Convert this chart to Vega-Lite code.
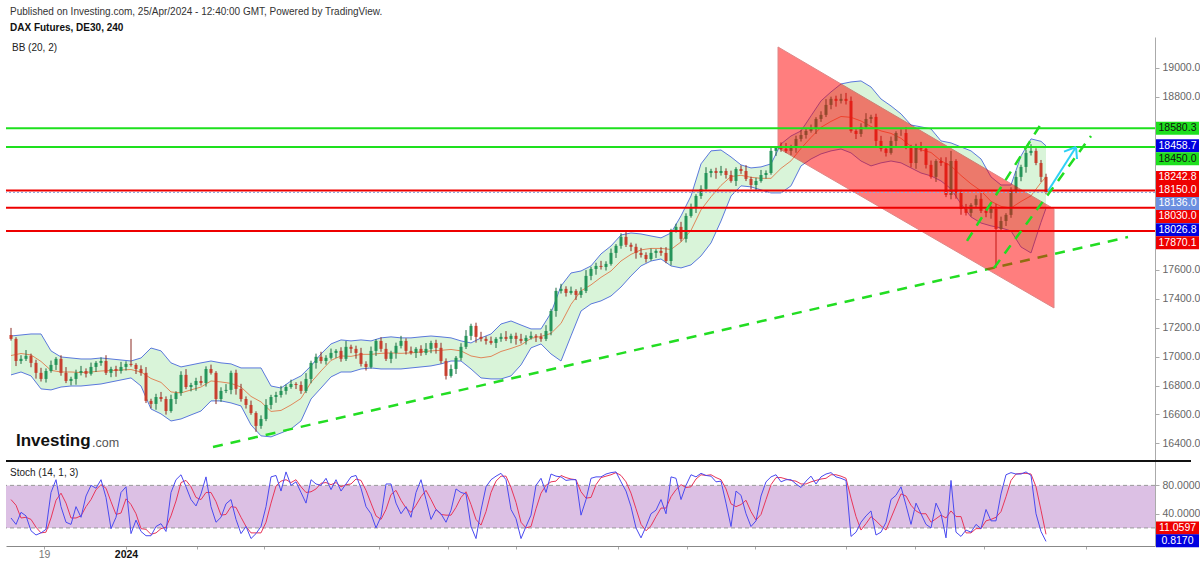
{
"$schema":"https://vega.github.io/schema/vega-lite/v6.json",
"background":"#ffffff",
"padding":{"left":5,"top":7,"right":0,"bottom":0},
"config":{"font":"Liberation Sans","view":{"stroke":null},"concat":{"spacing":0}},
"title":{"text":"Published on Investing.com, 25/Apr/2024 - 12:40:00 GMT, Powered by TradingView.","subtitle":"DAX Futures, DE30, 240","anchor":"start","fontSize":10,"fontWeight":"normal","color":"#333","subtitleFontSize":10,"subtitleFontWeight":"bold","subtitleColor":"#111","subtitlePadding":6,"offset":4,"dx":5},
"datasets":{
"bars":[
{"i":1,"o":17150,"h":17199,"l":17111,"c":17123,"k":34,"d":60},
{"i":2,"o":17123,"h":17135,"l":16935,"c":16970,"k":25,"d":52},
{"i":3,"o":16970,"h":17010,"l":16950,"c":16985,"k":42,"d":34},
{"i":4,"o":16985,"h":17046,"l":16970,"c":17006,"k":37,"d":35},
{"i":5,"o":17006,"h":17021,"l":16927,"c":16957,"k":16,"d":32},
{"i":6,"o":16957,"h":16979,"l":16848,"c":16888,"k":10,"d":21},
{"i":7,"o":16888,"h":16923,"l":16828,"c":16846,"k":13,"d":13},
{"i":8,"o":16846,"h":16919,"l":16821,"c":16901,"k":18,"d":14},
{"i":9,"o":16901,"h":16973,"l":16889,"c":16943,"k":70,"d":34},
{"i":10,"o":16943,"h":16997,"l":16908,"c":16985,"k":88,"d":59},
{"i":11,"o":16985,"h":17010,"l":16868,"c":16888,"k":50,"d":69},
{"i":12,"o":16888,"h":16928,"l":16817,"c":16832,"k":28,"d":55},
{"i":13,"o":16832,"h":16861,"l":16802,"c":16846,"k":25,"d":34},
{"i":14,"o":16846,"h":16910,"l":16806,"c":16888,"k":50,"d":34},
{"i":15,"o":16888,"h":16936,"l":16870,"c":16901,"k":35,"d":37},
{"i":16,"o":16901,"h":16919,"l":16856,"c":16881,"k":65,"d":50},
{"i":17,"o":16881,"h":16959,"l":16869,"c":16929,"k":80,"d":60},
{"i":18,"o":16929,"h":16969,"l":16894,"c":16957,"k":76,"d":74},
{"i":19,"o":16957,"h":16995,"l":16937,"c":16970,"k":88,"d":81},
{"i":20,"o":16970,"h":17010,"l":16873,"c":16888,"k":63,"d":76},
{"i":21,"o":16888,"h":16930,"l":16858,"c":16915,"k":19,"d":57},
{"i":22,"o":16915,"h":16937,"l":16861,"c":16901,"k":35,"d":39},
{"i":23,"o":16901,"h":16964,"l":16883,"c":16929,"k":70,"d":41},
{"i":24,"o":16929,"h":16968,"l":16904,"c":16950,"k":78,"d":61},
{"i":25,"o":16950,"h":17123,"l":16931,"c":16943,"k":12,"d":53},
{"i":26,"o":16943,"h":16955,"l":16880,"c":16915,"k":31,"d":40},
{"i":27,"o":16915,"h":16940,"l":16868,"c":16888,"k":15,"d":19},
{"i":28,"o":16888,"h":16928,"l":16679,"c":16694,"k":9,"d":18},
{"i":29,"o":16694,"h":16709,"l":16643,"c":16673,"k":9,"d":11},
{"i":30,"o":16673,"h":16743,"l":16633,"c":16721,"k":22,"d":13},
{"i":31,"o":16721,"h":16756,"l":16689,"c":16707,"k":26,"d":19},
{"i":32,"o":16707,"h":16725,"l":16599,"c":16624,"k":15,"d":21},
{"i":33,"o":16624,"h":16737,"l":16612,"c":16707,"k":70,"d":37},
{"i":34,"o":16707,"h":16761,"l":16672,"c":16749,"k":88,"d":58},
{"i":35,"o":16749,"h":16899,"l":16729,"c":16874,"k":95,"d":84},
{"i":36,"o":16874,"h":16914,"l":16775,"c":16790,"k":78,"d":87},
{"i":37,"o":16790,"h":16819,"l":16760,"c":16804,"k":60,"d":78},
{"i":38,"o":16804,"h":16854,"l":16764,"c":16832,"k":51,"d":63},
{"i":39,"o":16832,"h":16867,"l":16800,"c":16818,"k":68,"d":60},
{"i":40,"o":16818,"h":16933,"l":16793,"c":16915,"k":92,"d":70},
{"i":41,"o":16915,"h":16945,"l":16876,"c":16888,"k":50,"d":70},
{"i":42,"o":16888,"h":16900,"l":16672,"c":16707,"k":28,"d":57},
{"i":43,"o":16707,"h":16788,"l":16687,"c":16763,"k":35,"d":38},
{"i":44,"o":16763,"h":16810,"l":16748,"c":16770,"k":54,"d":39},
{"i":45,"o":16770,"h":16903,"l":16740,"c":16888,"k":60,"d":50},
{"i":46,"o":16888,"h":16910,"l":16737,"c":16777,"k":32,"d":49},
{"i":47,"o":16777,"h":16812,"l":16689,"c":16707,"k":12,"d":35},
{"i":48,"o":16707,"h":16725,"l":16641,"c":16666,"k":22,"d":22},
{"i":49,"o":16666,"h":16696,"l":16598,"c":16610,"k":5,"d":13},
{"i":50,"o":16610,"h":16622,"l":16480,"c":16521,"k":12,"d":13},
{"i":51,"o":16521,"h":16594,"l":16501,"c":16569,"k":22,"d":13},
{"i":52,"o":16569,"h":16706,"l":16554,"c":16666,"k":50,"d":28},
{"i":53,"o":16666,"h":16736,"l":16636,"c":16721,"k":92,"d":55},
{"i":54,"o":16721,"h":16757,"l":16681,"c":16735,"k":94,"d":79},
{"i":55,"o":16735,"h":16798,"l":16717,"c":16763,"k":72,"d":86},
{"i":56,"o":16763,"h":16808,"l":16738,"c":16790,"k":99,"d":88},
{"i":57,"o":16790,"h":16841,"l":16778,"c":16811,"k":80,"d":84},
{"i":58,"o":16811,"h":16823,"l":16776,"c":16804,"k":85,"d":88},
{"i":59,"o":16804,"h":16829,"l":16743,"c":16763,"k":70,"d":78},
{"i":60,"o":16763,"h":16886,"l":16748,"c":16846,"k":55,"d":70},
{"i":61,"o":16846,"h":16972,"l":16816,"c":16957,"k":88,"d":71},
{"i":62,"o":16957,"h":17021,"l":16917,"c":16999,"k":82,"d":75},
{"i":63,"o":16999,"h":17034,"l":16952,"c":16970,"k":80,"d":83},
{"i":64,"o":16970,"h":17010,"l":16945,"c":16992,"k":90,"d":84},
{"i":65,"o":16992,"h":17056,"l":16980,"c":17026,"k":74,"d":81},
{"i":66,"o":17026,"h":17052,"l":16991,"c":17040,"k":88,"d":84},
{"i":67,"o":17040,"h":17065,"l":16965,"c":16985,"k":72,"d":78},
{"i":68,"o":16985,"h":17108,"l":16970,"c":17068,"k":82,"d":81},
{"i":69,"o":17068,"h":17083,"l":17024,"c":17054,"k":92,"d":82},
{"i":70,"o":17054,"h":17076,"l":16986,"c":17026,"k":94,"d":89},
{"i":71,"o":17026,"h":17061,"l":16932,"c":16950,"k":76,"d":87},
{"i":72,"o":16950,"h":16968,"l":16904,"c":16929,"k":50,"d":73},
{"i":73,"o":16929,"h":17070,"l":16917,"c":17040,"k":40,"d":55},
{"i":74,"o":17040,"h":17121,"l":17005,"c":17109,"k":20,"d":37},
{"i":75,"o":17109,"h":17134,"l":17034,"c":17054,"k":36,"d":32},
{"i":76,"o":17054,"h":17094,"l":16970,"c":16985,"k":82,"d":46},
{"i":77,"o":16985,"h":17041,"l":16955,"c":17026,"k":82,"d":67},
{"i":78,"o":17026,"h":17097,"l":16986,"c":17075,"k":55,"d":73},
{"i":79,"o":17075,"h":17144,"l":17057,"c":17109,"k":40,"d":59},
{"i":80,"o":17109,"h":17127,"l":17015,"c":17040,"k":50,"d":48},
{"i":81,"o":17040,"h":17070,"l":17014,"c":17026,"k":35,"d":42},
{"i":82,"o":17026,"h":17066,"l":16991,"c":17054,"k":70,"d":52},
{"i":83,"o":17054,"h":17079,"l":17006,"c":17026,"k":88,"d":64},
{"i":84,"o":17026,"h":17094,"l":17011,"c":17054,"k":60,"d":73},
{"i":85,"o":17054,"h":17110,"l":17024,"c":17095,"k":32,"d":60},
{"i":86,"o":17095,"h":17117,"l":17021,"c":17061,"k":46,"d":46},
{"i":87,"o":17061,"h":17096,"l":16952,"c":16970,"k":40,"d":39},
{"i":88,"o":16970,"h":16988,"l":16842,"c":16867,"k":28,"d":38},
{"i":89,"o":16867,"h":16945,"l":16855,"c":16915,"k":45,"d":38},
{"i":90,"o":16915,"h":17004,"l":16880,"c":16992,"k":75,"d":49},
{"i":91,"o":16992,"h":17093,"l":16972,"c":17068,"k":70,"d":63},
{"i":92,"o":17068,"h":17184,"l":17053,"c":17144,"k":68,"d":71},
{"i":93,"o":17144,"h":17228,"l":17114,"c":17213,"k":22,"d":53},
{"i":94,"o":17213,"h":17235,"l":17097,"c":17137,"k":5,"d":32},
{"i":95,"o":17137,"h":17172,"l":17105,"c":17123,"k":45,"d":24},
{"i":96,"o":17123,"h":17141,"l":17084,"c":17109,"k":78,"d":43},
{"i":97,"o":17109,"h":17139,"l":17083,"c":17095,"k":88,"d":70},
{"i":98,"o":17095,"h":17135,"l":17060,"c":17123,"k":93,"d":86},
{"i":99,"o":17123,"h":17162,"l":17103,"c":17137,"k":97,"d":93},
{"i":100,"o":17137,"h":17177,"l":17108,"c":17123,"k":88,"d":93},
{"i":101,"o":17123,"h":17159,"l":17093,"c":17144,"k":46,"d":77},
{"i":102,"o":17144,"h":17166,"l":17083,"c":17123,"k":33,"d":56},
{"i":103,"o":17123,"h":17158,"l":17091,"c":17109,"k":5,"d":28},
{"i":104,"o":17109,"h":17148,"l":17084,"c":17130,"k":22,"d":20},
{"i":105,"o":17130,"h":17174,"l":17118,"c":17144,"k":38,"d":22},
{"i":106,"o":17144,"h":17156,"l":17102,"c":17137,"k":80,"d":47},
{"i":107,"o":17137,"h":17162,"l":17103,"c":17123,"k":90,"d":69},
{"i":108,"o":17123,"h":17218,"l":17108,"c":17178,"k":70,"d":80},
{"i":109,"o":17178,"h":17331,"l":17148,"c":17316,"k":96,"d":85},
{"i":110,"o":17316,"h":17477,"l":17276,"c":17455,"k":93,"d":86},
{"i":111,"o":17455,"h":17504,"l":17437,"c":17469,"k":92,"d":94},
{"i":112,"o":17469,"h":17487,"l":17416,"c":17441,"k":87,"d":91},
{"i":113,"o":17441,"h":17485,"l":17429,"c":17455,"k":88,"d":89},
{"i":114,"o":17455,"h":17467,"l":17392,"c":17427,"k":88,"d":88},
{"i":115,"o":17427,"h":17480,"l":17407,"c":17455,"k":38,"d":71},
{"i":116,"o":17455,"h":17599,"l":17440,"c":17559,"k":60,"d":62},
{"i":117,"o":17559,"h":17622,"l":17529,"c":17607,"k":90,"d":63},
{"i":118,"o":17607,"h":17650,"l":17567,"c":17628,"k":92,"d":81},
{"i":119,"o":17628,"h":17663,"l":17603,"c":17621,"k":92,"d":91},
{"i":120,"o":17621,"h":17660,"l":17596,"c":17642,"k":96,"d":93},
{"i":121,"o":17642,"h":17748,"l":17630,"c":17718,"k":98,"d":95},
{"i":122,"o":17718,"h":17779,"l":17683,"c":17767,"k":99,"d":98},
{"i":123,"o":17767,"h":17854,"l":17747,"c":17829,"k":85,"d":94},
{"i":124,"o":17829,"h":17869,"l":17759,"c":17774,"k":72,"d":85},
{"i":125,"o":17774,"h":17789,"l":17730,"c":17760,"k":50,"d":69},
{"i":126,"o":17760,"h":17782,"l":17678,"c":17718,"k":20,"d":47},
{"i":127,"o":17718,"h":17753,"l":17686,"c":17704,"k":6,"d":25},
{"i":128,"o":17704,"h":17722,"l":17651,"c":17676,"k":22,"d":16},
{"i":129,"o":17676,"h":17748,"l":17664,"c":17718,"k":40,"d":23},
{"i":130,"o":17718,"h":17744,"l":17683,"c":17732,"k":45,"d":36},
{"i":131,"o":17732,"h":17757,"l":17698,"c":17718,"k":60,"d":48},
{"i":132,"o":17718,"h":17758,"l":17647,"c":17662,"k":40,"d":48},
{"i":133,"o":17662,"h":17885,"l":17632,"c":17870,"k":92,"d":64},
{"i":134,"o":17870,"h":17920,"l":17858,"c":17898,"k":90,"d":74},
{"i":135,"o":17898,"h":17933,"l":17797,"c":17815,"k":60,"d":81},
{"i":136,"o":17815,"h":17992,"l":17790,"c":17974,"k":80,"d":77},
{"i":137,"o":17974,"h":18059,"l":17962,"c":18029,"k":95,"d":78},
{"i":138,"o":18029,"h":18124,"l":17994,"c":18112,"k":92,"d":89},
{"i":139,"o":18112,"h":18186,"l":18092,"c":18161,"k":97,"d":95},
{"i":140,"o":18161,"h":18311,"l":18146,"c":18271,"k":94,"d":94},
{"i":141,"o":18271,"h":18300,"l":18241,"c":18285,"k":93,"d":95},
{"i":142,"o":18285,"h":18307,"l":18231,"c":18271,"k":85,"d":91},
{"i":143,"o":18271,"h":18320,"l":18253,"c":18285,"k":86,"d":88},
{"i":144,"o":18285,"h":18303,"l":18232,"c":18257,"k":55,"d":75},
{"i":145,"o":18257,"h":18287,"l":18204,"c":18216,"k":22,"d":54},
{"i":146,"o":18216,"h":18311,"l":18181,"c":18299,"k":72,"d":50},
{"i":147,"o":18299,"h":18324,"l":18265,"c":18285,"k":66,"d":53},
{"i":148,"o":18285,"h":18325,"l":18215,"c":18230,"k":40,"d":59},
{"i":149,"o":18230,"h":18245,"l":18158,"c":18188,"k":22,"d":43},
{"i":150,"o":18188,"h":18238,"l":18148,"c":18216,"k":30,"d":31},
{"i":151,"o":18216,"h":18292,"l":18204,"c":18257,"k":65,"d":39},
{"i":152,"o":18257,"h":18289,"l":18232,"c":18271,"k":85,"d":60},
{"i":153,"o":18271,"h":18454,"l":18259,"c":18424,"k":92,"d":81},
{"i":154,"o":18424,"h":18456,"l":18389,"c":18444,"k":95,"d":91},
{"i":155,"o":18444,"h":18483,"l":18418,"c":18438,"k":85,"d":91},
{"i":156,"o":18438,"h":18478,"l":18409,"c":18424,"k":88,"d":89},
{"i":157,"o":18424,"h":18466,"l":18394,"c":18451,"k":88,"d":87},
{"i":158,"o":18451,"h":18529,"l":18411,"c":18507,"k":82,"d":86},
{"i":159,"o":18507,"h":18569,"l":18489,"c":18534,"k":77,"d":82},
{"i":160,"o":18534,"h":18580,"l":18509,"c":18562,"k":86,"d":82},
{"i":161,"o":18562,"h":18606,"l":18550,"c":18576,"k":93,"d":85},
{"i":162,"o":18576,"h":18657,"l":18541,"c":18645,"k":82,"d":87},
{"i":163,"o":18645,"h":18698,"l":18625,"c":18673,"k":92,"d":89},
{"i":164,"o":18673,"h":18782,"l":18658,"c":18742,"k":96,"d":90},
{"i":165,"o":18742,"h":18799,"l":18712,"c":18784,"k":98,"d":95},
{"i":166,"o":18784,"h":18806,"l":18730,"c":18770,"k":92,"d":95},
{"i":167,"o":18770,"h":18819,"l":18752,"c":18784,"k":90,"d":93},
{"i":168,"o":18784,"h":18825,"l":18745,"c":18770,"k":87,"d":90},
{"i":169,"o":18770,"h":18800,"l":18550,"c":18562,"k":8,"d":62},
{"i":170,"o":18562,"h":18574,"l":18506,"c":18541,"k":14,"d":36},
{"i":171,"o":18541,"h":18615,"l":18521,"c":18590,"k":28,"d":17},
{"i":172,"o":18590,"h":18685,"l":18575,"c":18645,"k":37,"d":26},
{"i":173,"o":18645,"h":18674,"l":18615,"c":18659,"k":44,"d":36},
{"i":174,"o":18659,"h":18681,"l":18453,"c":18493,"k":10,"d":30},
{"i":175,"o":18493,"h":18528,"l":18420,"c":18438,"k":14,"d":23},
{"i":176,"o":18438,"h":18456,"l":18385,"c":18410,"k":28,"d":17},
{"i":177,"o":18410,"h":18523,"l":18398,"c":18493,"k":60,"d":34},
{"i":178,"o":18493,"h":18560,"l":18458,"c":18548,"k":66,"d":51},
{"i":179,"o":18548,"h":18573,"l":18528,"c":18548,"k":78,"d":68},
{"i":180,"o":18548,"h":18588,"l":18436,"c":18451,"k":52,"d":65},
{"i":181,"o":18451,"h":18466,"l":18310,"c":18340,"k":25,"d":52},
{"i":182,"o":18340,"h":18473,"l":18300,"c":18451,"k":55,"d":44},
{"i":183,"o":18451,"h":18486,"l":18420,"c":18438,"k":40,"d":40},
{"i":184,"o":18438,"h":18456,"l":18302,"c":18327,"k":25,"d":40},
{"i":185,"o":18327,"h":18357,"l":18232,"c":18244,"k":20,"d":28},
{"i":186,"o":18244,"h":18366,"l":18209,"c":18354,"k":55,"d":33},
{"i":187,"o":18354,"h":18379,"l":18320,"c":18340,"k":40,"d":38},
{"i":188,"o":18340,"h":18380,"l":18104,"c":18119,"k":6,"d":34},
{"i":189,"o":18119,"h":18424,"l":18089,"c":18354,"k":87,"d":44},
{"i":190,"o":18354,"h":18366,"l":18093,"c":18133,"k":14,"d":36},
{"i":191,"o":18133,"h":18155,"l":17982,"c":18022,"k":8,"d":36},
{"i":192,"o":18022,"h":18057,"l":17977,"c":17995,"k":17,"d":13},
{"i":193,"o":17995,"h":18062,"l":17970,"c":18050,"k":14,"d":13},
{"i":194,"o":18050,"h":18117,"l":18030,"c":18092,"k":25,"d":19},
{"i":195,"o":18092,"h":18132,"l":17994,"c":18009,"k":19,"d":19},
{"i":196,"o":18009,"h":18024,"l":17965,"c":17995,"k":46,"d":30},
{"i":197,"o":17995,"h":18044,"l":17955,"c":18022,"k":30,"d":32},
{"i":198,"o":18022,"h":18057,"l":17614,"c":17884,"k":30,"d":35},
{"i":199,"o":17884,"h":17969,"l":17872,"c":17939,"k":68,"d":43},
{"i":200,"o":17939,"h":17993,"l":17904,"c":17981,"k":95,"d":64},
{"i":201,"o":17981,"h":18172,"l":17961,"c":18147,"k":98,"d":87},
{"i":202,"o":18147,"h":18284,"l":18132,"c":18244,"k":96,"d":96},
{"i":203,"o":18244,"h":18328,"l":18214,"c":18313,"k":96,"d":97},
{"i":204,"o":18313,"h":18432,"l":18273,"c":18410,"k":99,"d":97},
{"i":205,"o":18410,"h":18470,"l":18392,"c":18424,"k":94,"d":96},
{"i":206,"o":18424,"h":18442,"l":18325,"c":18340,"k":40,"d":78},
{"i":207,"o":18340,"h":18361,"l":18209,"c":18244,"k":15,"d":45},
{"i":208,"o":18244,"h":18266,"l":18124,"c":18136,"k":1,"d":11}
],
"bb":[
{"i":1,"up":17143,"mid":17008,"lo":16874},
{"i":3,"up":17150,"mid":17022,"lo":16894},
{"i":5,"up":17157,"mid":17012,"lo":16867},
{"i":7,"up":17157,"mid":16967,"lo":16777},
{"i":9,"up":17040,"mid":16905,"lo":16770},
{"i":11,"up":16998,"mid":16894,"lo":16790},
{"i":13,"up":16991,"mid":16894,"lo":16797},
{"i":15,"up":16984,"mid":16890,"lo":16797},
{"i":17,"up":16984,"mid":16894,"lo":16804},
{"i":19,"up":16991,"mid":16901,"lo":16811},
{"i":21,"up":16984,"mid":16904,"lo":16825},
{"i":23,"up":16977,"mid":16908,"lo":16839},
{"i":25,"up":16970,"mid":16911,"lo":16853},
{"i":27,"up":16991,"mid":16894,"lo":16797},
{"i":29,"up":17060,"mid":16849,"lo":16638},
{"i":31,"up":17040,"mid":16822,"lo":16604},
{"i":33,"up":16957,"mid":16756,"lo":16555},
{"i":35,"up":16929,"mid":16749,"lo":16569},
{"i":37,"up":16943,"mid":16770,"lo":16597},
{"i":39,"up":16957,"mid":16790,"lo":16624},
{"i":41,"up":16970,"mid":16832,"lo":16694},
{"i":43,"up":16957,"mid":16825,"lo":16694},
{"i":45,"up":16950,"mid":16815,"lo":16680},
{"i":47,"up":16922,"mid":16790,"lo":16659},
{"i":49,"up":16922,"mid":16725,"lo":16528},
{"i":51,"up":16922,"mid":16687,"lo":16452},
{"i":53,"up":16797,"mid":16621,"lo":16445},
{"i":55,"up":16783,"mid":16628,"lo":16472},
{"i":57,"up":16832,"mid":16666,"lo":16500},
{"i":59,"up":16867,"mid":16711,"lo":16555},
{"i":61,"up":16936,"mid":16822,"lo":16707},
{"i":63,"up":17019,"mid":16901,"lo":16783},
{"i":65,"up":17088,"mid":16974,"lo":16860},
{"i":67,"up":17116,"mid":17005,"lo":16894},
{"i":69,"up":17109,"mid":17002,"lo":16894},
{"i":71,"up":17116,"mid":17016,"lo":16915},
{"i":73,"up":17109,"mid":17016,"lo":16922},
{"i":75,"up":17130,"mid":17023,"lo":16915},
{"i":77,"up":17137,"mid":17026,"lo":16915},
{"i":79,"up":17130,"mid":17023,"lo":16915},
{"i":81,"up":17130,"mid":17026,"lo":16922},
{"i":83,"up":17137,"mid":17033,"lo":16929},
{"i":85,"up":17143,"mid":17040,"lo":16936},
{"i":87,"up":17137,"mid":17044,"lo":16950},
{"i":89,"up":17130,"mid":17050,"lo":16970},
{"i":91,"up":17109,"mid":17040,"lo":16970},
{"i":93,"up":17095,"mid":17005,"lo":16915},
{"i":95,"up":17130,"mid":16992,"lo":16853},
{"i":97,"up":17157,"mid":17002,"lo":16846},
{"i":99,"up":17226,"mid":17036,"lo":16846},
{"i":101,"up":17247,"mid":17057,"lo":16867},
{"i":103,"up":17219,"mid":17081,"lo":16943},
{"i":105,"up":17192,"mid":17127,"lo":17061},
{"i":107,"up":17192,"mid":17140,"lo":17088},
{"i":109,"up":17303,"mid":17161,"lo":17019},
{"i":111,"up":17489,"mid":17230,"lo":16970},
{"i":113,"up":17579,"mid":17362,"lo":17144},
{"i":115,"up":17593,"mid":17455,"lo":17316},
{"i":117,"up":17628,"mid":17497,"lo":17365},
{"i":119,"up":17711,"mid":17549,"lo":17386},
{"i":121,"up":17766,"mid":17593,"lo":17420},
{"i":123,"up":17842,"mid":17662,"lo":17482},
{"i":125,"up":17856,"mid":17708,"lo":17559},
{"i":127,"up":17849,"mid":17739,"lo":17628},
{"i":129,"up":17835,"mid":17749,"lo":17662},
{"i":131,"up":17822,"mid":17749,"lo":17676},
{"i":133,"up":17856,"mid":17742,"lo":17628},
{"i":135,"up":17974,"mid":17794,"lo":17614},
{"i":137,"up":18112,"mid":17874,"lo":17635},
{"i":139,"up":18334,"mid":18016,"lo":17697},
{"i":141,"up":18424,"mid":18106,"lo":17787},
{"i":143,"up":18430,"mid":18185,"lo":17939},
{"i":145,"up":18382,"mid":18247,"lo":18112},
{"i":147,"up":18327,"mid":18255,"lo":18182},
{"i":149,"up":18306,"mid":18241,"lo":18175},
{"i":151,"up":18313,"mid":18234,"lo":18154},
{"i":153,"up":18334,"mid":18234,"lo":18133},
{"i":155,"up":18472,"mid":18303,"lo":18133},
{"i":157,"up":18527,"mid":18355,"lo":18182},
{"i":159,"up":18562,"mid":18441,"lo":18320},
{"i":161,"up":18666,"mid":18517,"lo":18368},
{"i":163,"up":18770,"mid":18587,"lo":18403},
{"i":165,"up":18832,"mid":18628,"lo":18424},
{"i":167,"up":18887,"mid":18662,"lo":18437},
{"i":169,"up":18901,"mid":18656,"lo":18410},
{"i":171,"up":18908,"mid":18631,"lo":18354},
{"i":173,"up":18866,"mid":18593,"lo":18320},
{"i":175,"up":18783,"mid":18562,"lo":18341},
{"i":177,"up":18735,"mid":18545,"lo":18354},
{"i":179,"up":18680,"mid":18511,"lo":18341},
{"i":181,"up":18603,"mid":18455,"lo":18306},
{"i":183,"up":18590,"mid":18431,"lo":18271},
{"i":185,"up":18576,"mid":18413,"lo":18251},
{"i":187,"up":18493,"mid":18355,"lo":18216},
{"i":189,"up":18479,"mid":18320,"lo":18161},
{"i":191,"up":18451,"mid":18254,"lo":18057},
{"i":193,"up":18424,"mid":18196,"lo":17967},
{"i":195,"up":18368,"mid":18147,"lo":17925},
{"i":197,"up":18244,"mid":18075,"lo":17905},
{"i":199,"up":18188,"mid":18040,"lo":17891},
{"i":201,"up":18188,"mid":18029,"lo":17870},
{"i":203,"up":18389,"mid":18074,"lo":17759},
{"i":205,"up":18507,"mid":18113,"lo":17718},
{"i":207,"up":18490,"mid":18205,"lo":17930},
{"i":208,"up":18459,"mid":18243,"lo":18027}
],
"channel":[{"i":154.4,"top":19143,"bot":18444},{"i":209.6,"top":18022,"bot":17337}],
"trend":[{"i":41.4,"p":16375},{"i":224.4,"p":17828}],
"steep":[{"g":"A","i":192.2,"p":17801},{"g":"A","i":207,"p":18610},{"g":"B","i":197.6,"p":17614},{"g":"B","i":217,"p":18527}],
"arrow":[{"i":208.4,"p":18146,"i2":214,"p2":18451},{"i":214,"p":18451,"i2":211.6,"p2":18419},{"i":214,"p":18451,"i2":214.2,"p2":18368}],
"levels":[{"v":18580.3,"kind":"g"},{"v":18450,"kind":"g"},{"v":18150,"kind":"r"},{"v":18030,"kind":"r"},{"v":17870.1,"kind":"r"}],
"tags":[
{"v":"18580.3","pos":18580.3,"kind":"g"},
{"v":"18458.7","pos":18458.7,"kind":"b"},
{"v":"18450.0","pos":18370,"kind":"g"},
{"v":"18242.8","pos":18240,"kind":"r"},
{"v":"18150.0","pos":18150,"kind":"r"},
{"v":"18136.0","pos":18060,"kind":"lb"},
{"v":"18030.0","pos":17970,"kind":"r"},
{"v":"18026.8","pos":17878,"kind":"b"},
{"v":"17870.1","pos":17788,"kind":"r"}
],
"stags":[{"v":"11.0597","pos":20,"kind":"r"},{"v":"0.8170","pos":2,"kind":"b"}]
},
"vconcat":[
{
"width":1149,"height":423,
"title":{"text":"BB (20, 2)","anchor":"start","offset":-16,"fontSize":10,"fontWeight":"normal","color":"#222","dx":7},
"layer":[
{"data":{"name":"bb"},"mark":{"type":"area","color":"#d9f4d9"},"encoding":{
"x":{"field":"i","type":"quantitative","scale":{"domain":[0,229.8],"nice":false,"zero":false,"padding":0},"axis":null,"title":null},
"y":{"field":"up","type":"quantitative","title":null,"scale":{"domain":[16285,19212],"nice":false,"zero":false,"padding":0},"axis":{"orient":"right","values":[16400,16600,16800,17000,17200,17400,17600,18800,19000],"format":".1f","labelColor":"#666","labelFontSize":10.5,"labelOverlap":false,"domainColor":"#aaaaaa","tickColor":"#aaaaaa","tickSize":4,"grid":false,"title":null,"labelPadding":3}},
"y2":{"field":"lo"}}},
{"data":{"name":"bb"},"mark":{"type":"line","color":"#5a78dc","strokeWidth":1},"encoding":{"x":{"field":"i","type":"quantitative","title":null},"y":{"field":"up","type":"quantitative","title":null}}},
{"data":{"name":"bb"},"mark":{"type":"line","color":"#5a78dc","strokeWidth":1},"encoding":{"x":{"field":"i","type":"quantitative","title":null},"y":{"field":"lo","type":"quantitative","title":null}}},
{"data":{"name":"bb"},"mark":{"type":"line","color":"#e0875a","strokeWidth":1},"encoding":{"x":{"field":"i","type":"quantitative","title":null},"y":{"field":"mid","type":"quantitative","title":null}}},
{"data":{"name":"trend"},"mark":{"type":"line","color":"#22dd22","strokeWidth":2.5,"strokeDash":[10,8]},"encoding":{"x":{"field":"i","type":"quantitative","title":null},"y":{"field":"p","type":"quantitative","title":null}}},
{"data":{"name":"bars"},"mark":{"type":"rule","strokeWidth":1},"encoding":{"x":{"field":"i","type":"quantitative","title":null},"y":{"field":"l","type":"quantitative","title":null},"y2":{"field":"h"},"color":{"condition":{"test":"datum.c >= datum.o","value":"#1d6b40"},"value":"#8a2a22"}}},
{"data":{"name":"bars"},"mark":{"type":"bar","size":3},"encoding":{"x":{"field":"i","type":"quantitative","title":null},"y":{"field":"o","type":"quantitative","title":null},"y2":{"field":"c"},"color":{"condition":{"test":"datum.c >= datum.o","value":"#25955a"},"value":"#c8402f"}}},
{"data":{"name":"channel"},"mark":{"type":"area","color":"#ff0000","opacity":0.5,"stroke":"#c01010","strokeWidth":1},"encoding":{"x":{"field":"i","type":"quantitative","title":null},"y":{"field":"top","type":"quantitative","title":null},"y2":{"field":"bot"}}},
{"data":{"name":"levels"},"mark":{"type":"rule","strokeWidth":2},"encoding":{"y":{"field":"v","type":"quantitative","title":null},"color":{"field":"kind","type":"nominal","scale":{"domain":["g","r","b","lb"],"range":["#1ee01e","#ee0000","#0000e0","#6b8fe0"]},"legend":null}}},
{"data":{"values":[{"v":18136}]},"mark":{"type":"rule","color":"#8fa8e0","strokeDash":[2,2],"strokeWidth":1},"encoding":{"y":{"field":"v","type":"quantitative","title":null}}},
{"data":{"name":"steep"},"mark":{"type":"line","color":"#22dd22","strokeWidth":2.5,"strokeDash":[10,8]},"encoding":{"x":{"field":"i","type":"quantitative","title":null},"y":{"field":"p","type":"quantitative","title":null},"detail":{"field":"g"}}},
{"data":{"name":"arrow"},"mark":{"type":"rule","color":"#2ed0f5","strokeWidth":2},"encoding":{"x":{"field":"i","type":"quantitative","title":null},"y":{"field":"p","type":"quantitative","title":null},"x2":{"field":"i2"},"y2":{"field":"p2"}}},
{"data":{"name":"tags"},"mark":{"type":"bar","orient":"horizontal","size":13},"encoding":{"x":{"datum":230,"type":"quantitative"},"x2":{"datum":238.6},"y":{"field":"pos","type":"quantitative","title":null},"color":{"field":"kind","type":"nominal","legend":null}}},
{"data":{"name":"tags"},"mark":{"type":"text","fontSize":10.5,"align":"center","baseline":"middle"},"encoding":{"x":{"datum":234.3,"type":"quantitative"},"y":{"field":"pos","type":"quantitative","title":null},"text":{"field":"v"},"color":{"condition":{"test":"datum.kind == 'g'","value":"#111111"},"value":"#ffffff"}}},
{"data":{"values":[{"t":"Investing"}]},"mark":{"type":"text","fontSize":17,"fontWeight":"bold","color":"#111","align":"left","baseline":"middle"},"encoding":{"x":{"datum":2,"type":"quantitative"},"y":{"datum":16416,"type":"quantitative"},"text":{"field":"t"}}},
{"data":{"values":[{"t":".com"}]},"mark":{"type":"text","fontSize":12.5,"color":"#555","align":"left","baseline":"middle"},"encoding":{"x":{"datum":17.2,"type":"quantitative"},"y":{"datum":16402,"type":"quantitative"},"text":{"field":"t"}}}
]
},
{
"width":1149,"height":85,
"title":{"text":"Stoch (14, 1, 3)","anchor":"start","offset":-18,"fontSize":10,"fontWeight":"normal","color":"#222","dx":5},
"layer":[
{"data":{"values":[{}]},"mark":{"type":"rect","color":"#dcc0e4"},"encoding":{
"x":{"datum":0,"type":"quantitative","scale":{"domain":[0,229.8],"nice":false,"zero":false,"padding":0},"axis":{"orient":"bottom","values":[7.6,24,38.2,51.6,74.6,88.4,102,122.4,136.2,149.8,168,181.8,195.6,216],"labelExpr":"datum.value == 7.6 ? '19' : (datum.value == 24 ? '2024' : '')","labelFontSize":10.5,"labelColor":{"condition":{"test":"datum.value == 24","value":"#111111"},"value":"#777777"},"labelFontWeight":{"condition":{"test":"datum.value == 24","value":"bold"},"value":"normal"},"labelOverlap":false,"domainColor":"#888888","tickColor":"#aaaaaa","tickSize":3,"grid":false,"title":null,"labelPadding":0}},
"x2":{"datum":229.8},
"y":{"datum":20,"type":"quantitative","scale":{"domain":[-5.5,114.4],"nice":false,"zero":false,"padding":0},"axis":{"orient":"right","values":[40,80],"format":".4f","labelColor":"#666","labelFontSize":10.5,"labelOverlap":false,"domainColor":"#aaaaaa","tickColor":"#aaaaaa","tickSize":4,"grid":false,"title":null,"labelPadding":3}},
"y2":{"datum":80}}},
{"data":{"values":[{"v":20},{"v":80}]},"mark":{"type":"rule","color":"#999999","strokeDash":[4,3],"strokeWidth":1},"encoding":{"y":{"field":"v","type":"quantitative","title":null}}},
{"data":{"name":"bars"},"mark":{"type":"line","color":"#e8365a","strokeWidth":1},"encoding":{"x":{"field":"i","type":"quantitative","title":null},"y":{"field":"d","type":"quantitative","title":null}}},
{"data":{"name":"bars"},"mark":{"type":"line","color":"#4a4af0","strokeWidth":1},"encoding":{"x":{"field":"i","type":"quantitative","title":null},"y":{"field":"k","type":"quantitative","title":null}}},
{"data":{"values":[{}]},"mark":{"type":"rule","color":"#111111","strokeWidth":2},"encoding":{"x":{"datum":0,"type":"quantitative"},"x2":{"datum":237},"y":{"datum":114.4,"type":"quantitative"}}},
{"data":{"name":"stags"},"mark":{"type":"bar","orient":"horizontal","size":13},"encoding":{"x":{"datum":230,"type":"quantitative"},"x2":{"datum":238.6},"y":{"field":"pos","type":"quantitative","title":null},"color":{"field":"kind","type":"nominal","scale":{"domain":["g","r","b","lb"],"range":["#1ee01e","#ee0000","#0000e0","#6b8fe0"]},"legend":null}}},
{"data":{"name":"stags"},"mark":{"type":"text","fontSize":10.5,"align":"center","baseline":"middle","color":"#ffffff"},"encoding":{"x":{"datum":234.3,"type":"quantitative"},"y":{"field":"pos","type":"quantitative","title":null},"text":{"field":"v"}}}
]
}
],
"resolve":{"scale":{"x":"independent","y":"independent","color":"independent"}}
}
